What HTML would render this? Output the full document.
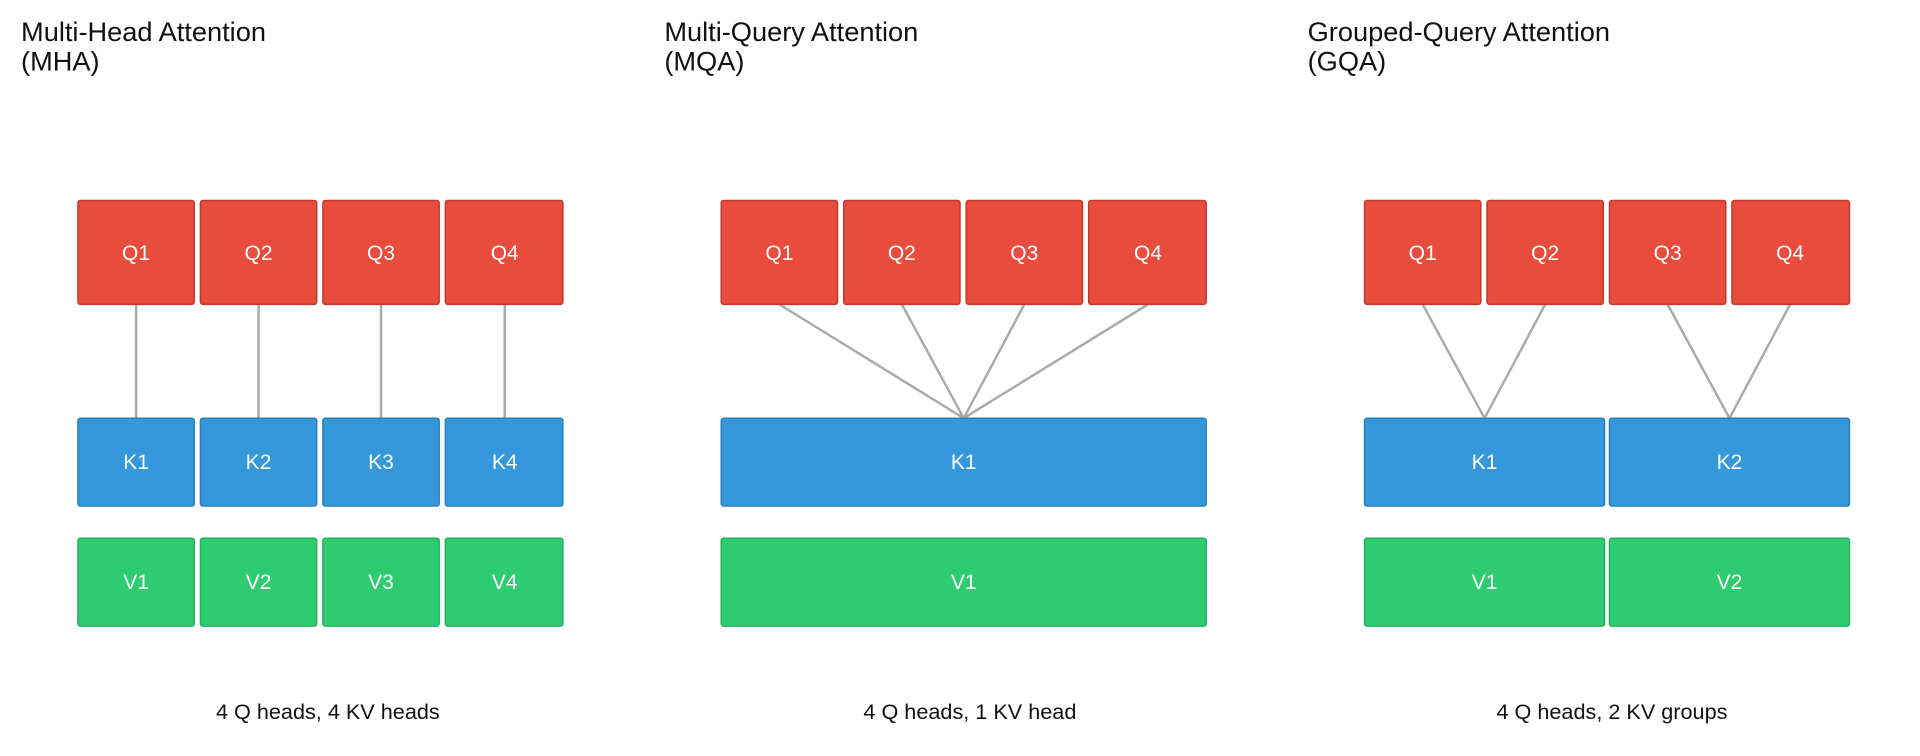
<!DOCTYPE html>
<html><head><meta charset="utf-8"><style>html,body{margin:0;padding:0;background:#fff}svg{display:block}</style></head>
<body>
<svg width="1920" height="756" viewBox="0 0 1552 611" preserveAspectRatio="none" xmlns="http://www.w3.org/2000/svg" font-family="Liberation Sans, NanumGothic, sans-serif">
<rect width="1552" height="611" fill="#fff"/>
<g font-size="22" fill="#111">
<text x="17" y="33">Multi-Head Attention</text><text x="17" y="57">(MHA)</text>
<text x="537" y="33">Multi-Query Attention</text><text x="537" y="57">(MQA)</text>
<text x="1057" y="33">Grouped-Query Attention</text><text x="1057" y="57">(GQA)</text>
</g>
<g stroke="#aaa" stroke-width="2">
<line x1="110" y1="246" x2="110" y2="338"/><line x1="209" y1="246" x2="209" y2="338"/>
<line x1="308" y1="246" x2="308" y2="338"/><line x1="408" y1="246" x2="408" y2="338"/>
<line x1="630" y1="246" x2="779" y2="338"/><line x1="729" y1="246" x2="779" y2="338"/>
<line x1="828" y1="246" x2="779" y2="338"/><line x1="928" y1="246" x2="779" y2="338"/>
<line x1="1150" y1="246" x2="1200" y2="338"/><line x1="1249" y1="246" x2="1200" y2="338"/>
<line x1="1348" y1="246" x2="1398" y2="338"/><line x1="1447" y1="246" x2="1398" y2="338"/>
</g>
<g stroke-width="1.2">
<g fill="#e74c3c" stroke="#c0392b">
<rect x="63" y="162" width="94" height="84" rx="2"/><rect x="162" y="162" width="94" height="84" rx="2"/><rect x="261" y="162" width="94" height="84" rx="2"/><rect x="360" y="162" width="95" height="84" rx="2"/>
<rect x="583" y="162" width="94" height="84" rx="2"/><rect x="682" y="162" width="94" height="84" rx="2"/><rect x="781" y="162" width="94" height="84" rx="2"/><rect x="880" y="162" width="95" height="84" rx="2"/>
<rect x="1103" y="162" width="94" height="84" rx="2"/><rect x="1202" y="162" width="94" height="84" rx="2"/><rect x="1301" y="162" width="94" height="84" rx="2"/><rect x="1400" y="162" width="95" height="84" rx="2"/>
</g>
<g fill="#3498db" stroke="#2980b9">
<rect x="63" y="338" width="94" height="71" rx="2"/><rect x="162" y="338" width="94" height="71" rx="2"/><rect x="261" y="338" width="94" height="71" rx="2"/><rect x="360" y="338" width="95" height="71" rx="2"/>
<rect x="583" y="338" width="392" height="71" rx="2"/>
<rect x="1103" y="338" width="194" height="71" rx="2"/><rect x="1301" y="338" width="194" height="71" rx="2"/>
</g>
<g fill="#2ecc71" stroke="#27ae60">
<rect x="63" y="435" width="94" height="71" rx="2"/><rect x="162" y="435" width="94" height="71" rx="2"/><rect x="261" y="435" width="94" height="71" rx="2"/><rect x="360" y="435" width="95" height="71" rx="2"/>
<rect x="583" y="435" width="392" height="71" rx="2"/>
<rect x="1103" y="435" width="194" height="71" rx="2"/><rect x="1301" y="435" width="194" height="71" rx="2"/>
</g>
</g>
<g font-size="17" fill="#fff" text-anchor="middle">
<text x="110" y="210">Q1</text><text x="209" y="210">Q2</text><text x="308" y="210">Q3</text><text x="408" y="210">Q4</text>
<text x="630" y="210">Q1</text><text x="729" y="210">Q2</text><text x="828" y="210">Q3</text><text x="928" y="210">Q4</text>
<text x="1150" y="210">Q1</text><text x="1249" y="210">Q2</text><text x="1348" y="210">Q3</text><text x="1447" y="210">Q4</text>
<text x="110" y="379">K1</text><text x="209" y="379">K2</text><text x="308" y="379">K3</text><text x="408" y="379">K4</text>
<text x="779" y="379">K1</text><text x="1200" y="379">K1</text><text x="1398" y="379">K2</text>
<text x="110" y="476">V1</text><text x="209" y="476">V2</text><text x="308" y="476">V3</text><text x="408" y="476">V4</text>
<text x="779" y="476">V1</text><text x="1200" y="476">V1</text><text x="1398" y="476">V2</text>
</g>
<g font-size="17.5" fill="#111" text-anchor="middle">
<text x="265" y="581">4 Q heads, 4 KV heads</text>
<text x="784" y="581">4 Q heads, 1 KV head</text>
<text x="1303" y="581">4 Q heads, 2 KV groups</text>
</g>
</svg>
</body></html>
